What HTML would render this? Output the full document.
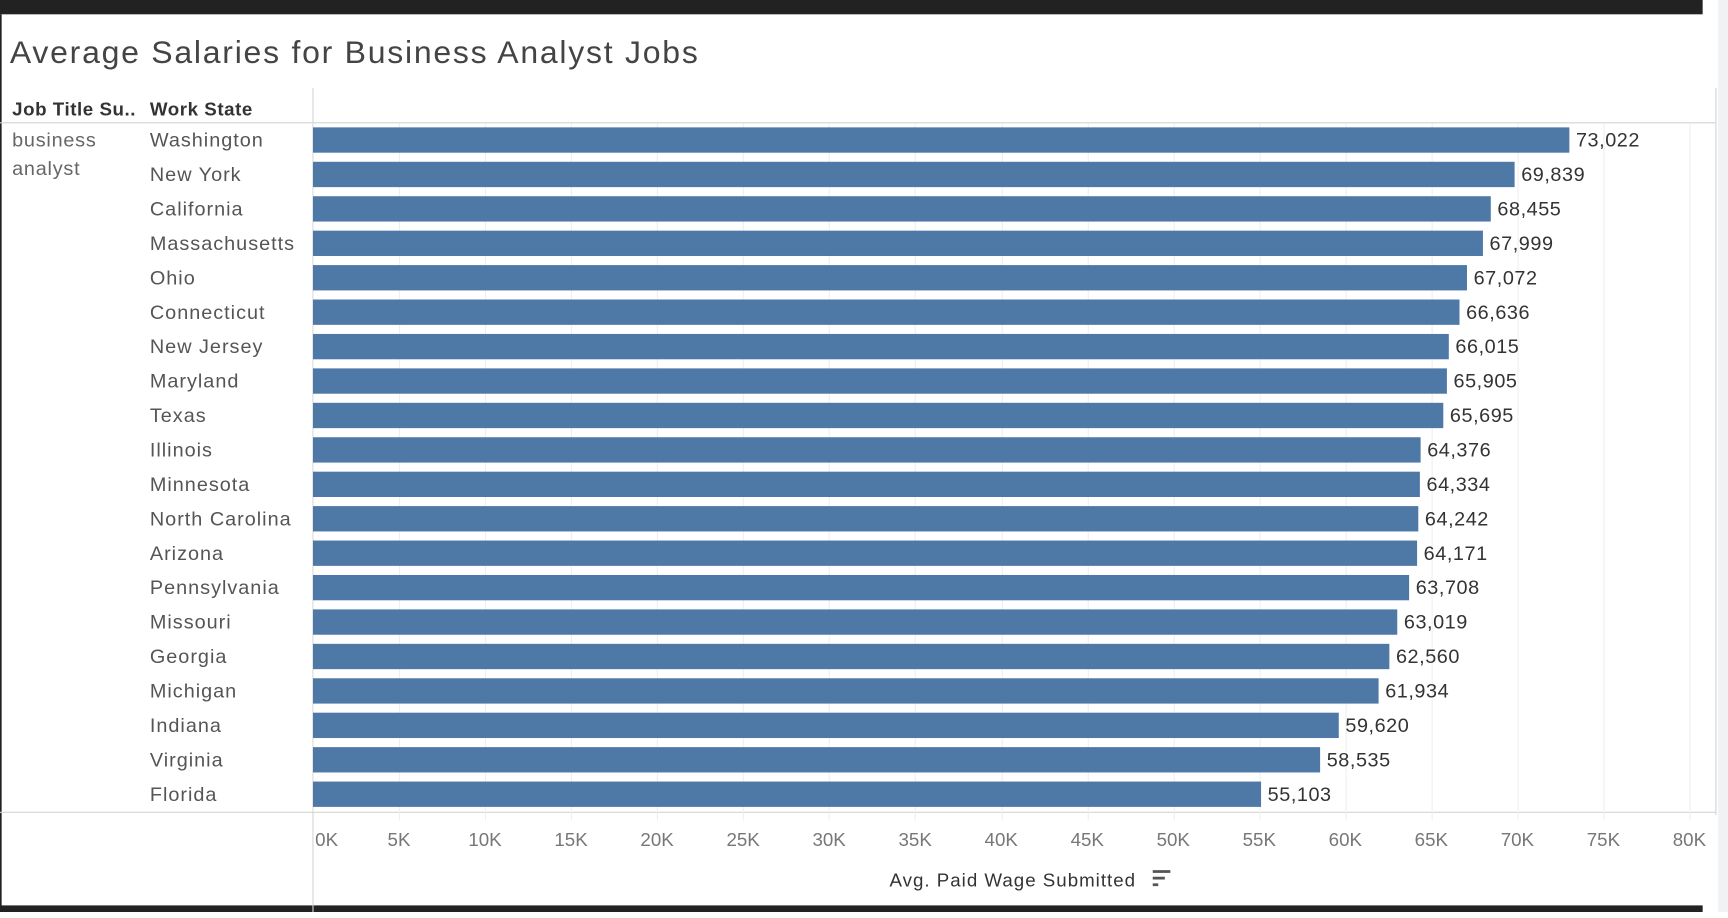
<!DOCTYPE html>
<html><head><meta charset="utf-8">
<style>
html,body{margin:0;padding:0;width:1728px;height:912px;overflow:hidden;background:#fff;}
#stage{position:absolute;left:0;top:0;width:1568px;height:828px;transform:scale(1.10204,1.10145);transform-origin:0 0;font-family:"Liberation Sans",sans-serif;}
svg text{font-family:"Liberation Sans",sans-serif;}
</style></head>
<body>
<div id="stage">
<svg id="chart" width="1568" height="828">
<rect x="0" y="0" width="1545" height="13" fill="#222"/>
<rect x="0" y="822" width="1545" height="6" fill="#222"/>
<rect x="1559" y="0" width="9" height="828" fill="#f1f2f4"/>
<rect x="0" y="13" width="1.5" height="810" fill="#222"/>
<text x="9" y="57" font-size="29" fill="#444" letter-spacing="1.6">Average Salaries for Business Analyst Jobs</text>
<text x="11" y="105" font-size="17" font-weight="bold" fill="#333" letter-spacing="0.5">Job Title Su..</text>
<text x="136" y="105" font-size="17" font-weight="bold" fill="#333" letter-spacing="0.5">Work State</text>
<line x1="284" y1="80" x2="284" y2="828" stroke="#d4d4d4"/>
<line x1="1557" y1="80" x2="1557" y2="740" stroke="#d4d4d4"/>
<line x1="0" y1="111.5" x2="1557" y2="111.5" stroke="#d4d4d4"/>
<line x1="0" y1="737.5" x2="1557" y2="737.5" stroke="#d4d4d4"/>
<text x="11" y="133" font-size="18" fill="#666" letter-spacing="0.7">business</text>
<text x="11" y="159" font-size="18" fill="#666" letter-spacing="0.7">analyst</text>
<g id="grid"></g><g id="bars"></g><g id="ticks"></g>
<text x="919" y="805" font-size="17" fill="#333" text-anchor="middle" letter-spacing="0.9">Avg. Paid Wage Submitted</text>
<g fill="#555">
<rect x="1046" y="790" width="16" height="2.5"/><rect x="1046" y="796" width="11" height="2.5"/><rect x="1046" y="802" width="5" height="2.5"/>
</g>
</svg>
</div>
<script>
const states=["Washington","New York","California","Massachusetts","Ohio","Connecticut","New Jersey","Maryland","Texas","Illinois","Minnesota","North Carolina","Arizona","Pennsylvania","Missouri","Georgia","Michigan","Indiana","Virginia","Florida"];
const wages=[73022,69839,68455,67999,67072,66636,66015,65905,65695,64376,64334,64242,64171,63708,63019,62560,61934,59620,58535,55103];
const tickValues=[0,5000,10000,15000,20000,25000,30000,35000,40000,45000,50000,55000,60000,65000,70000,75000,80000];
const tickLabels=["0K","5K","10K","15K","20K","25K","30K","35K","40K","45K","50K","55K","60K","65K","70K","75K","80K"];
const NS="http://www.w3.org/2000/svg";
const x0=284,x1=1533,dmax=80000;
function xs(v){return x0+(v/dmax)*(x1-x0);}
const top0=111.5,rowH=31.26;
function yc(i){return top0+rowH*(i+0.5);}
const grid=document.getElementById('grid'),bars=document.getElementById('bars'),ticks=document.getElementById('ticks');
tickValues.forEach((v,i)=>{
 const l=document.createElementNS(NS,'line');
 
 
 const x=Math.round(xs(v))+0.5;
 l.setAttribute('x1',x);l.setAttribute('x2',x);l.setAttribute('y1',112);l.setAttribute('y2',i==0?737:745);
 l.setAttribute('stroke','#efefef');grid.appendChild(l);
 const t=document.createElementNS(NS,'text');
 
 
 t.setAttribute('x',i==0?x0+2:xs(v));t.setAttribute('y',768);
 t.setAttribute('text-anchor',i==0?'start':'middle');
 t.setAttribute('font-size','17');t.setAttribute('fill','#777');
 t.textContent=tickLabels[i];ticks.appendChild(t);
});
states.forEach((s,i)=>{
 const y=yc(i);
 const r=document.createElementNS(NS,'rect');
 
 
 r.setAttribute('x',x0);r.setAttribute('y',y-11.5);r.setAttribute('width',xs(wages[i])-x0);r.setAttribute('height',23);
 r.setAttribute('fill','#4e79a7');bars.appendChild(r);
 const lab=document.createElementNS(NS,'text');
 
 
 lab.setAttribute('x',136);lab.setAttribute('y',y+6);lab.setAttribute('font-size','18');lab.setAttribute('fill','#555');
 lab.setAttribute('letter-spacing','0.9');
 lab.textContent=s;bars.appendChild(lab);
 const val=document.createElementNS(NS,'text');
 
 
 val.setAttribute('x',xs(wages[i])+6);val.setAttribute('y',y+6);val.setAttribute('font-size','18');val.setAttribute('fill','#333');
 val.setAttribute('letter-spacing','0.5');
 val.textContent=wages[i].toLocaleString('en-US');bars.appendChild(val);
});
</script>
</body></html>
